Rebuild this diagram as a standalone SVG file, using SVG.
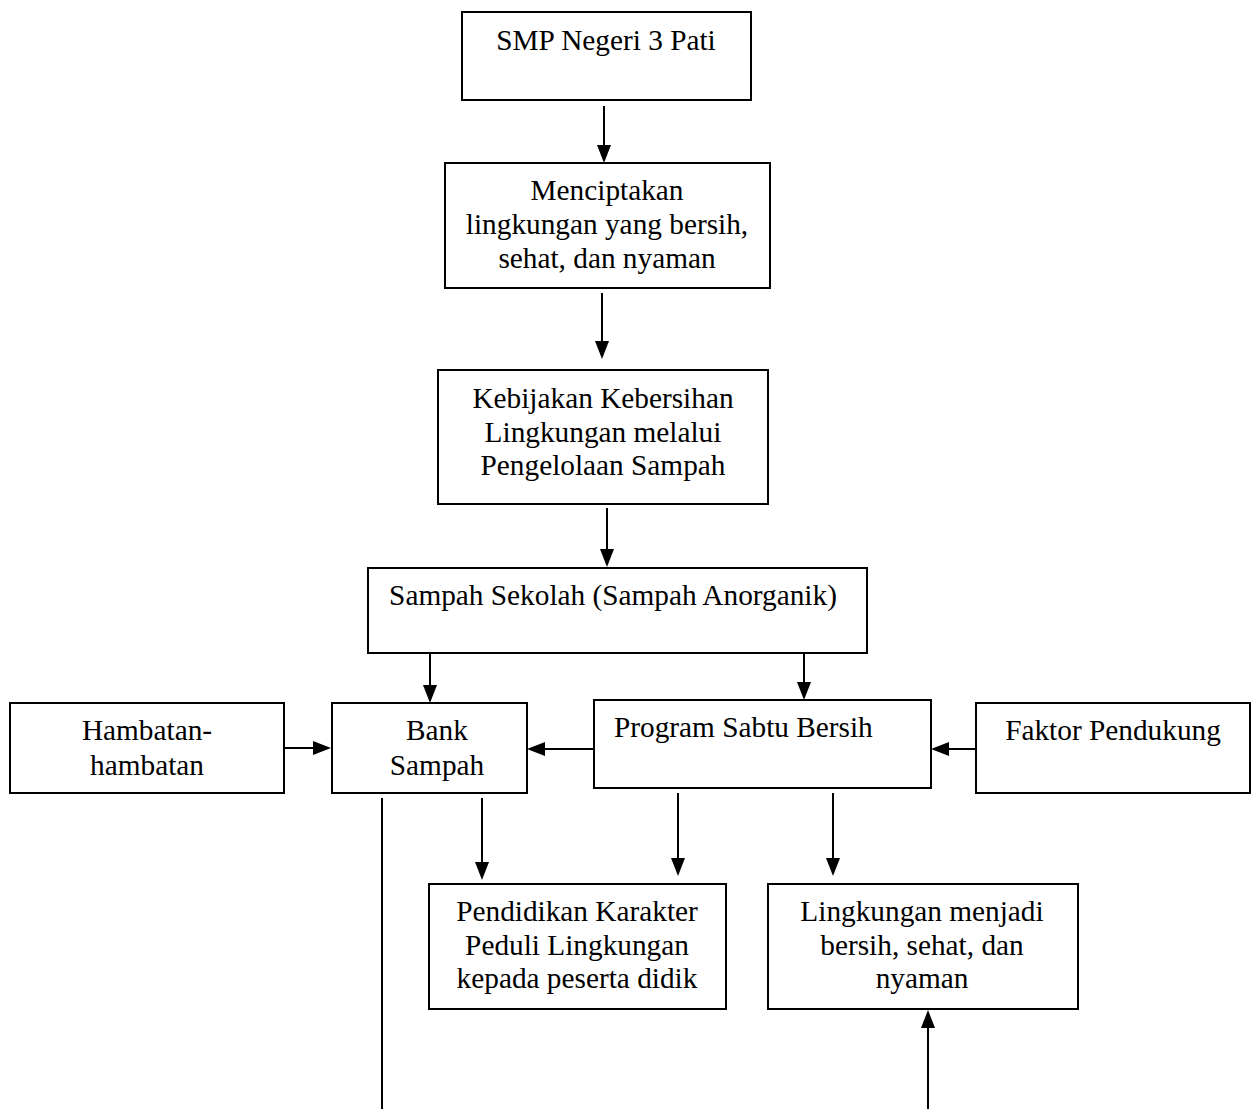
<svg xmlns="http://www.w3.org/2000/svg" width="1251" height="1109" viewBox="0 0 1251 1109">
<style>
.box{fill:#fff;stroke:#000;stroke-width:2}
.t{font-family:"Liberation Serif","Times New Roman",serif;font-size:29.3px;fill:#000;text-anchor:middle}
.c{stroke:#000;stroke-width:2;fill:none}
</style>
<defs>
<marker id="ah" viewBox="0 0 18 14" refX="2" refY="7" markerWidth="18" markerHeight="14" markerUnits="userSpaceOnUse" orient="auto">
<path d="M0,0 L18,7 L0,14 z" fill="#000"/>
</marker>
</defs>
<rect width="1251" height="1109" fill="#fff"/>
<g id="connectors">
<line class="c" x1="604" y1="106" x2="604" y2="147" marker-end="url(#ah)"/>
<line class="c" x1="602" y1="293" x2="602" y2="343" marker-end="url(#ah)"/>
<line class="c" x1="607" y1="508" x2="607" y2="551" marker-end="url(#ah)"/>
<line class="c" x1="430" y1="654" x2="430" y2="687" marker-end="url(#ah)"/>
<line class="c" x1="804" y1="654" x2="804" y2="684" marker-end="url(#ah)"/>
<line class="c" x1="285" y1="748" x2="315" y2="748" marker-end="url(#ah)"/>
<line class="c" x1="593" y1="749" x2="543" y2="749" marker-end="url(#ah)"/>
<line class="c" x1="976" y1="749" x2="947" y2="749" marker-end="url(#ah)"/>
<line class="c" x1="482" y1="798" x2="482" y2="864" marker-end="url(#ah)"/>
<line class="c" x1="678" y1="793" x2="678" y2="860" marker-end="url(#ah)"/>
<line class="c" x1="833" y1="793" x2="833" y2="860" marker-end="url(#ah)"/>
<line class="c" x1="928" y1="1109" x2="928" y2="1026" marker-end="url(#ah)"/>
<line class="c" x1="382" y1="798" x2="382" y2="1109"/>
</g>
<g id="smp">
<rect class="box" x="462" y="12" width="289" height="88"/>
<text class="t" x="606" y="50">SMP Negeri 3 Pati</text>
</g>
<g id="menciptakan">
<rect class="box" x="445" y="163" width="325" height="125"/>
<text class="t" x="607" y="200">Menciptakan</text>
<text class="t" x="607" y="234">lingkungan yang bersih,</text>
<text class="t" x="607" y="268">sehat, dan nyaman</text>
</g>
<g id="kebijakan">
<rect class="box" x="438" y="370" width="330" height="134"/>
<text class="t" x="603" y="408">Kebijakan Kebersihan</text>
<text class="t" x="603" y="442">Lingkungan melalui</text>
<text class="t" x="603" y="475">Pengelolaan Sampah</text>
</g>
<g id="sampah-sekolah">
<rect class="box" x="368" y="568" width="499" height="85"/>
<text class="t" x="613" y="605">Sampah Sekolah (Sampah Anorganik)</text>
</g>
<g id="hambatan">
<rect class="box" x="10" y="703" width="274" height="90"/>
<text class="t" x="147" y="740">Hambatan-</text>
<text class="t" x="147" y="775">hambatan</text>
</g>
<g id="bank-sampah">
<rect class="box" x="332" y="703" width="195" height="90"/>
<text class="t" x="437" y="740">Bank</text>
<text class="t" x="437" y="775">Sampah</text>
</g>
<g id="program-sabtu">
<rect class="box" x="594" y="700" width="337" height="88"/>
<text class="t" x="614" y="737" style="text-anchor:start">Program Sabtu Bersih</text>
</g>
<g id="faktor">
<rect class="box" x="976" y="703" width="274" height="90"/>
<text class="t" x="1113" y="740">Faktor Pendukung</text>
</g>
<g id="pendidikan">
<rect class="box" x="429" y="884" width="297" height="125"/>
<text class="t" x="577" y="921">Pendidikan Karakter</text>
<text class="t" x="577" y="955">Peduli Lingkungan</text>
<text class="t" x="577" y="988">kepada peserta didik</text>
</g>
<g id="lingkungan">
<rect class="box" x="768" y="884" width="310" height="125"/>
<text class="t" x="922" y="921">Lingkungan menjadi</text>
<text class="t" x="922" y="955">bersih, sehat, dan</text>
<text class="t" x="922" y="988">nyaman</text>
</g>
</svg>
